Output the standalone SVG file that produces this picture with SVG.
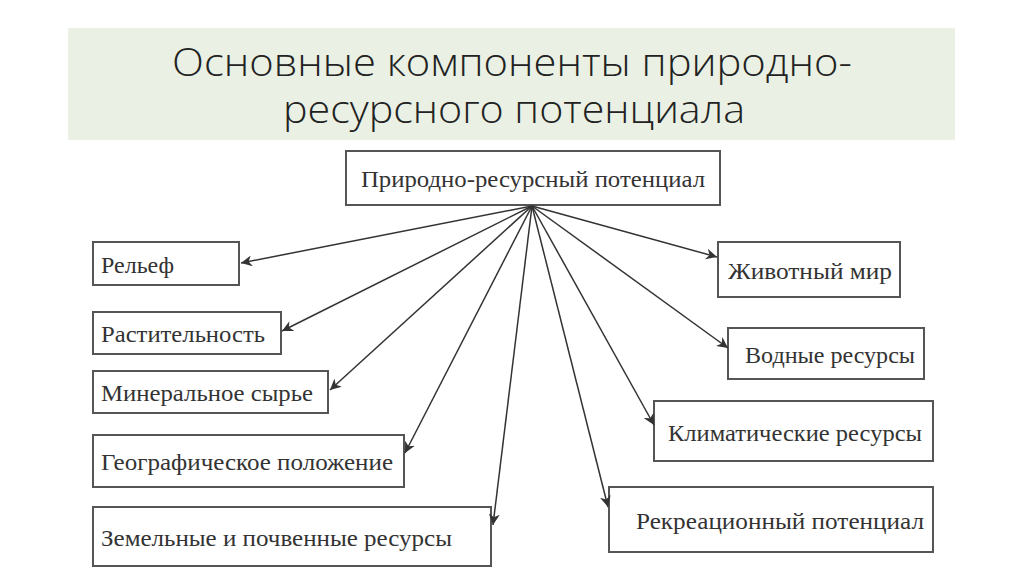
<svg xmlns="http://www.w3.org/2000/svg" width="1024" height="574" viewBox="0 0 1024 574">
<style>
.b{fill:#fff;stroke:#555;stroke-width:2}
.t{font-family:"Liberation Serif",serif;font-size:24px;fill:#333}
.h{font-family:"Open Sans",sans-serif;font-weight:300;font-size:38px;fill:#222}
.c{stroke:#333;stroke-width:1.5;fill:none;marker-end:url(#a)}
</style>
<defs><marker id="a" viewBox="0 0 10 10" refX="10" refY="5" markerWidth="11" markerHeight="11" markerUnits="userSpaceOnUse" orient="auto"><path d="M0,0L10,5L0,10L3,5z" fill="#333"/></marker></defs>
<rect x="0" y="0" width="1024" height="574" fill="#fff"/>
<rect x="68" y="28" width="887" height="112" fill="#eaf1e4"/>
<text class="h" x="172" y="76" textLength="680" lengthAdjust="spacingAndGlyphs">Основные компоненты природно-</text>
<text class="h" x="283" y="123" textLength="462" lengthAdjust="spacingAndGlyphs">ресурсного потенциала</text>
<g id="top"><rect class="b" x="346" y="151" width="374" height="54"/><text class="t" x="361" y="187" textLength="344" lengthAdjust="spacingAndGlyphs">Природно-ресурсный потенциал</text></g>
<g id="n1"><rect class="b" x="93" y="242" width="146" height="43"/><text class="t" x="101" y="273">Рельеф</text></g>
<g id="n2"><rect class="b" x="93" y="312" width="188" height="42"/><text class="t" x="101" y="342" textLength="164" lengthAdjust="spacingAndGlyphs">Растительность</text></g>
<g id="n3"><rect class="b" x="93" y="371" width="235" height="42"/><text class="t" x="101" y="401" textLength="212" lengthAdjust="spacingAndGlyphs">Минеральное сырье</text></g>
<g id="n4"><rect class="b" x="93" y="435" width="311" height="52"/><text class="t" x="101" y="470" textLength="292" lengthAdjust="spacingAndGlyphs">Географическое положение</text></g>
<g id="n5"><rect class="b" x="93" y="507" width="398" height="59"/><text class="t" x="101" y="546" textLength="351" lengthAdjust="spacingAndGlyphs">Земельные и почвенные ресурсы</text></g>
<g id="n6"><rect class="b" x="718" y="242" width="182" height="55"/><text class="t" x="728" y="279" textLength="164" lengthAdjust="spacingAndGlyphs">Животный мир</text></g>
<g id="n7"><rect class="b" x="728" y="328" width="196" height="51"/><text class="t" x="745" y="363" textLength="170" lengthAdjust="spacingAndGlyphs">Водные ресурсы</text></g>
<g id="n8"><rect class="b" x="654" y="401" width="279" height="60"/><text class="t" x="668" y="441" textLength="254" lengthAdjust="spacingAndGlyphs">Климатические ресурсы</text></g>
<g id="n9"><rect class="b" x="609" y="487" width="324" height="65"/><text class="t" x="636" y="529" textLength="288" lengthAdjust="spacingAndGlyphs">Рекреационный потенциал</text></g>
<g id="connectors">
<line class="c" x1="532" y1="206" x2="241" y2="263"/>
<line class="c" x1="532" y1="206" x2="282" y2="331"/>
<line class="c" x1="532" y1="206" x2="330" y2="390"/>
<line class="c" x1="532" y1="206" x2="405" y2="453"/>
<line class="c" x1="532" y1="206" x2="493" y2="525"/>
<line class="c" x1="532" y1="206" x2="717" y2="257"/>
<line class="c" x1="532" y1="206" x2="728" y2="348"/>
<line class="c" x1="532" y1="206" x2="654" y2="425"/>
<line class="c" x1="532" y1="206" x2="608" y2="507"/>
</g>
</svg>
